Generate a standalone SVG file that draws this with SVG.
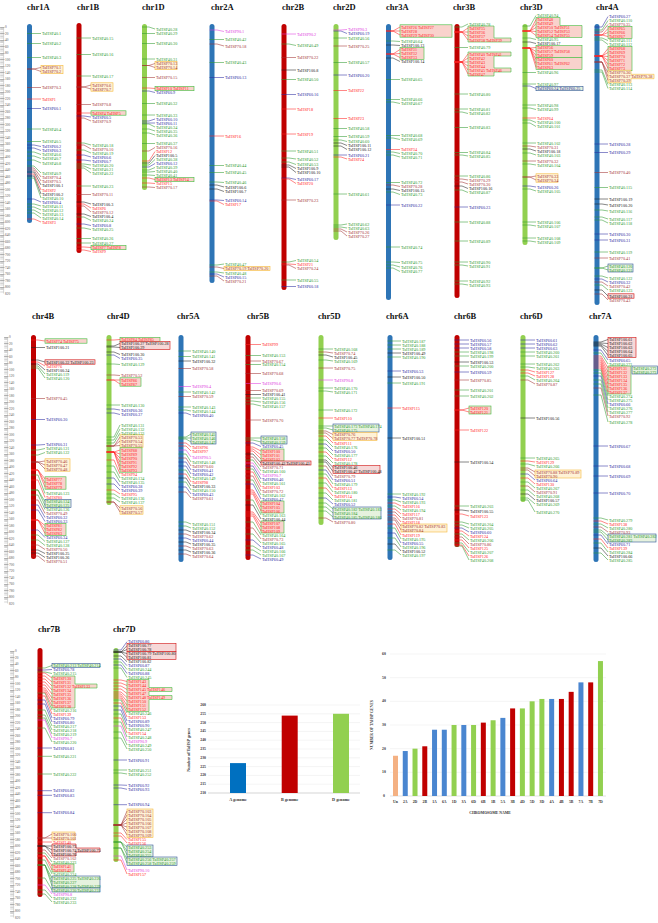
<svg xmlns="http://www.w3.org/2000/svg" width="658" height="923" viewBox="0 0 658 923">
<style>
text{font-family:"Liberation Serif","Times New Roman",serif}
.t text{font-size:4.2px;dominant-baseline:central}
.a{fill:#2f9a2f}.b{fill:#2a2aa0}.c{fill:#a23232}.d{fill:#ff2222}.e{fill:#222}.f{fill:#e03ce0}
.pa,.pb,.pc,.pd,.pe,.pf{fill:none;stroke-width:.55}
.pa{stroke:#2f9a2f}.pb{stroke:#2a2aa0}.pc{stroke:#a23232}.pd{stroke:#ff2222}.pe{stroke:#222}.pf{stroke:#e03ce0}
.A{fill:#2e75b6}.B{fill:#c00000}.D{fill:#92d050}
.yb{fill:#fff2d6;stroke:#f6b83c;stroke-width:.6}
.gb{fill:#f9d2cc;stroke:#3fbf3f;stroke-width:.6}
.bb{fill:#e6f2de;stroke:#2f5597;stroke-width:.6}
.rb{fill:#f6d8d8;stroke:#d01010;stroke-width:.6}
.ttl{font-size:8.5px;font-weight:bold;fill:#111}
.rl text{font-size:3.4px;fill:#555;dominant-baseline:central}
.ax{font-size:4.2px;font-weight:bold;fill:#333}
.grid{stroke:#e8e8e8;stroke-width:.5}
</style>
<defs>
<g id="ruler" class="rl">
<path d="M1.8 0V266.5" stroke="#aaa" stroke-width="3.2" stroke-dasharray=".35 .95"/>
<path d="M2.3 0V266.5" stroke="#777" stroke-width="4.4" stroke-dasharray=".5 6"/>
<path d="M3.6 0V266.5" stroke="#999" stroke-width=".4"/>
<g transform="translate(5,0)"><text y="0">0</text><text y="6.5">20</text><text y="13">40</text><text y="19.5">60</text><text y="26">80</text><text y="32.5">100</text><text y="39">120</text><text y="45.5">140</text><text y="52">160</text><text y="58.5">180</text><text y="65">200</text><text y="71.5">220</text><text y="78">240</text><text y="84.5">260</text><text y="91">280</text><text y="97.5">300</text><text y="104">320</text><text y="110.5">340</text><text y="117">360</text><text y="123.5">380</text><text y="130">400</text><text y="136.5">420</text><text y="143">440</text><text y="149.5">460</text><text y="156">480</text><text y="162.5">500</text><text y="169">520</text><text y="175.5">540</text><text y="182">560</text><text y="188.5">580</text><text y="195">600</text><text y="201.5">620</text><text y="208">640</text><text y="214.5">660</text><text y="221">680</text><text y="227.5">700</text><text y="234">720</text><text y="240.5">740</text><text y="247">760</text><text y="253.5">780</text><text y="260">800</text><text y="266.5">820</text></g>
</g>
</defs>
<rect width="658" height="923" fill="#fff"/>
<g id="rulers">
<use href="#ruler" transform="translate(0,27)"/>
<use href="#ruler" transform="translate(4,337)"/>
<use href="#ruler" transform="translate(10,651)"/>
</g>
<g id="titles" class="ttl">
<text x="27" y="10">chr1A</text><text x="77" y="10">chr1B</text><text x="142" y="10">chr1D</text><text x="211" y="10">chr2A</text><text x="282" y="10">chr2B</text><text x="333" y="10">chr2D</text><text x="386" y="10">chr3A</text><text x="453" y="10">chr3B</text><text x="520" y="10">chr3D</text><text x="596" y="10">chr4A</text>
<text x="32" y="319">chr4B</text><text x="107" y="319">chr4D</text><text x="177" y="319">chr5A</text><text x="247" y="319">chr5B</text><text x="318" y="319">chr5D</text><text x="386" y="319">chr6A</text><text x="454" y="319">chr6B</text><text x="520" y="319">chr6D</text><text x="589" y="319">chr7A</text>
<text x="38" y="632">chr7B</text><text x="113" y="632">chr7D</text>
</g>

<g id="chr1A" class="t">
<rect class="A" x="27" y="24" width="5" height="199" rx="2.5"/>
<rect class="yb" x="41" y="65.3" width="22" height="8.4"/>
<path class="pa" d="M27 33.5H34L41 33.5M27 43.5H34L41 43.5M27 57.5H34L41 57.5M27 129H34L41 129M27 141.5H34L41 141.5M27 152H34L41 154.5M27 156H34L41 158.5M27 160H34L41 163M27 166H34L41 173M27 178H34L41 198M27 204H34L41 206M27 207H34L41 210M27 210H34L41 214M27 213H34L41 218"/>
<path class="pb" d="M27 108.5H34L41 108.5M27 145H34L41 146.5M27 148H34L41 150.5M27 199H34L41 202"/>
<path class="pc" d="M27 69H34L41 67.5M27 69H34L41 71.5M27 87.5H34L41 87.5M27 168H34L41 177M27 170H34L41 181"/>
<path class="pd" d="M27 99H34L41 99M27 174H34L41 190M27 219H34L41 222"/>
<path class="pe" d="M27 172H34L41 185M27 176H34L41 194"/>
<g class="a"><text x="42" y="33.5">TaHSP40.1</text><text x="42" y="43.5">TaHSP40.2</text><text x="42" y="57.5">TaHSP40.3</text><text x="42" y="129">TaHSP40.4</text><text x="42" y="141.5">TaHSP40.5</text><text x="42" y="154.5">TaHSP40.6</text><text x="42" y="158.5">TaHSP40.7</text><text x="42" y="163">TaHSP40.8</text><text x="42" y="173">TaHSP40.9</text><text x="42" y="198">TaHSP40.10</text><text x="42" y="206">TaHSP40.11</text><text x="42" y="210">TaHSP40.12</text><text x="42" y="214">TaHSP40.13</text><text x="42" y="218">TaHSP40.14</text></g>
<g class="b"><text x="42" y="108.5">TaHSP60.1</text><text x="42" y="146.5">TaHSP60.2</text><text x="42" y="150.5">TaHSP60.3</text><text x="42" y="202">TaHSP60.4</text></g>
<g class="c"><text x="42" y="67.5">TaHSP70.1</text><text x="42" y="71.5">TaHSP70.2</text><text x="42" y="87.5">TaHSP70.3</text><text x="42" y="177">TaHSP70.4</text><text x="42" y="181">TaHSP70.5</text></g>
<g class="d"><text x="42" y="99">TaHSP1</text><text x="42" y="190">TaHSP2</text><text x="42" y="222">TaHSP3</text></g>
<g class="e"><text x="42" y="185">TaHSP100.1</text><text x="42" y="194">TaHSP100.2</text></g>
</g>

<g id="chr1B" class="t">
<rect class="B" x="76.5" y="23" width="5" height="230" rx="2.5"/>
<rect class="yb" x="91" y="82.8" width="22" height="8.4"/>
<rect class="gb" x="91" y="110.8" width="35" height="4.4"/>
<rect class="gb" x="91" y="245.3" width="35" height="4.4"/>
<path class="pa" d="M76.5 38H84L91 38M76.5 54.5H84L91 54.5M76.5 76H84L91 76M76.5 143H84L91 145M76.5 150H84L91 153M76.5 164H84L91 165M76.5 166H84L91 169M76.5 168H84L91 173M76.5 186H84L91 186M76.5 217H84L91 220.5M76.5 228H84L91 229.5M76.5 238.5H84L91 238.5M76.5 243H84L91 243"/>
<path class="pb" d="M76.5 116H84L91 117M76.5 155H84L91 157M76.5 160H84L91 161M76.5 224H84L91 225.5"/>
<path class="pc" d="M76.5 87H84L91 85M76.5 87H84L91 89M76.5 104.5H84L91 104.5M76.5 118H84L91 121M76.5 145H84L91 149M76.5 194.5H84L91 194.5M76.5 206H84L91 212"/>
<path class="pd" d="M76.5 113H84L91 113M76.5 204H84L91 208M76.5 247H84L91 247.5M76.5 250H84L91 251.5"/>
<path class="pe" d="M76.5 202H84L91 204M76.5 214H84L91 216.5"/>
<g class="a"><text x="92" y="38">TaHSP40.15</text><text x="92" y="54.5">TaHSP40.16</text><text x="92" y="76">TaHSP40.17</text><text x="92" y="145">TaHSP40.18</text><text x="92" y="153">TaHSP40.19</text><text x="92" y="165">TaHSP40.20</text><text x="92" y="169">TaHSP40.21</text><text x="92" y="173">TaHSP40.22</text><text x="92" y="186">TaHSP40.23</text><text x="92" y="220.5">TaHSP40.24</text><text x="92" y="229.5">TaHSP40.25</text><text x="92" y="238.5">TaHSP40.26</text><text x="92" y="243">TaHSP40.27</text></g>
<g class="b"><text x="92" y="117">TaHSP60.5</text><text x="92" y="157">TaHSP60.6</text><text x="92" y="161">TaHSP60.7</text><text x="92" y="225.5">TaHSP60.8</text></g>
<g class="c"><text x="92" y="85">TaHSP70.6</text><text x="92" y="89">TaHSP70.7</text><text x="92" y="104.5">TaHSP70.8</text><text x="92" y="121">TaHSP70.9</text><text x="92" y="149">TaHSP70.10</text><text x="92" y="194.5">TaHSP70.11</text><text x="92" y="212">TaHSP70.12</text></g>
<g class="d"><text x="92" y="113">TaHSP4 TaHSP5</text><text x="92" y="208">TaHSP6</text><text x="92" y="247.5">TaHSP7 TaHSP8</text><text x="92" y="251.5">TaHSP9</text></g>
<g class="e"><text x="92" y="204">TaHSP100.3</text><text x="92" y="216.5">TaHSP100.4</text></g>
</g>

<g id="chr1D" class="t">
<rect class="D" x="142" y="24" width="5" height="166" rx="2.5"/>
<rect class="yb" x="155" y="61.3" width="22" height="8.4"/>
<rect class="gb" x="155" y="86.3" width="39" height="4.4"/>
<rect class="gb" x="155" y="177.3" width="39" height="4.4"/>
<path class="pa" d="M142 27H149L155 29M142 33.5H149L155 33.5M142 43.5H149L155 43.5M142 59H149L155 59M142 103.5H149L155 103.5M142 115H149L155 115M142 124H149L155 127M142 129H149L155 131M142 133H149L155 135M142 143.5H149L155 143.5M142 165H149L155 159.5M142 170H149L155 167.5M142 172H149L155 171.5M142 175H149L155 175.5"/>
<path class="pb" d="M142 91H149L155 92.5M142 121H149L155 119M142 123H149L155 123M142 167H149L155 163.5"/>
<path class="pc" d="M142 65.5H149L155 63.5M142 65.5H149L155 67.5M142 77.5H149L155 77.5M142 151H149L155 147.5M142 187H149L155 187.5"/>
<path class="pd" d="M142 88H149L155 88.5M142 161H149L155 151.5M142 178H149L155 179.5M142 183H149L155 183.5"/>
<path class="pe" d="M142 163H149L155 155.5"/>
<g class="a"><text x="156" y="29">TaHSP40.28</text><text x="156" y="33.5">TaHSP40.29</text><text x="156" y="43.5">TaHSP40.30</text><text x="156" y="59">TaHSP40.31</text><text x="156" y="103.5">TaHSP40.32</text><text x="156" y="115">TaHSP40.33</text><text x="156" y="127">TaHSP40.34</text><text x="156" y="131">TaHSP40.35</text><text x="156" y="135">TaHSP40.36</text><text x="156" y="143.5">TaHSP40.37</text><text x="156" y="159.5">TaHSP40.38</text><text x="156" y="167.5">TaHSP40.39</text><text x="156" y="171.5">TaHSP40.40</text><text x="156" y="175.5">TaHSP40.41</text></g>
<g class="b"><text x="156" y="92.5">TaHSP60.9</text><text x="156" y="119">TaHSP60.10</text><text x="156" y="123">TaHSP60.11</text><text x="156" y="163.5">TaHSP60.12</text></g>
<g class="c"><text x="156" y="63.5">TaHSP70.13</text><text x="156" y="67.5">TaHSP70.14</text><text x="156" y="77.5">TaHSP70.15</text><text x="156" y="147.5">TaHSP70.16</text><text x="156" y="187.5">TaHSP70.17</text></g>
<g class="d"><text x="156" y="88.5">TaHSP10 TaHSP11</text><text x="156" y="151.5">TaHSP12</text><text x="156" y="179.5">TaHSP13 TaHSP14</text><text x="156" y="183.5">TaHSP15</text></g>
<g class="e"><text x="156" y="155.5">TaHSP100.5</text></g>
</g>

<g id="chr2A" class="t">
<rect class="A" x="209.5" y="24" width="5" height="259" rx="2.5"/>
<rect class="yb" x="224" y="266.3" width="46" height="4.4"/>
<path class="pa" d="M209.5 39.5H217L224 39.5M209.5 62.5H217L224 62.5M209.5 165.5H217L224 165.5M209.5 172.5H217L224 172.5M209.5 182H217L224 182.5M209.5 265H217L224 264M209.5 272H217L224 273"/>
<path class="pb" d="M209.5 77.5H217L224 77.5M209.5 200H217L224 200.5M209.5 274H217L224 277"/>
<path class="pc" d="M209.5 44H217L224 46M209.5 267H217L224 268.5M209.5 276H217L224 281"/>
<path class="pd" d="M209.5 136H217L224 136M209.5 201H217L224 204.5"/>
<path class="pe" d="M209.5 185H217L224 187M209.5 189H217L224 191.5"/>
<path class="pf" d="M209.5 30H217L224 31.5"/>
<g class="a"><text x="225" y="39.5">TaHSP40.42</text><text x="225" y="62.5">TaHSP40.43</text><text x="225" y="165.5">TaHSP40.44</text><text x="225" y="172.5">TaHSP40.45</text><text x="225" y="182.5">TaHSP40.46</text><text x="225" y="264">TaHSP40.47</text><text x="225" y="273">TaHSP40.48</text></g>
<g class="b"><text x="225" y="77.5">TaHSP60.13</text><text x="225" y="200.5">TaHSP60.14</text><text x="225" y="277">TaHSP60.15</text></g>
<g class="c"><text x="225" y="46">TaHSP70.18</text><text x="225" y="268.5">TaHSP70.19 TaHSP70.20</text><text x="225" y="281">TaHSP70.21</text></g>
<g class="d"><text x="225" y="136">TaHSP16</text><text x="225" y="204.5">TaHSP17</text></g>
<g class="e"><text x="225" y="187">TaHSP100.6</text><text x="225" y="191.5">TaHSP100.7</text></g>
<g class="f"><text x="225" y="31.5">TaHSP90.1</text></g>
</g>

<g id="chr2B" class="t">
<rect class="B" x="281.5" y="24" width="5" height="266" rx="2.5"/>
<path class="pa" d="M281.5 44H289L296 45.5M281.5 79.5H289L296 79.5M281.5 151H289L296 151M281.5 158H289L296 159M281.5 162H289L296 164.5M281.5 262H289L296 260.5M281.5 280H289L296 280"/>
<path class="pb" d="M281.5 94.5H289L296 94.5M281.5 178H289L296 179.5M281.5 286.5H289L296 286.5"/>
<path class="pc" d="M281.5 57.5H289L296 57.5M281.5 200H289L296 200M281.5 265H289L296 268.5"/>
<path class="pd" d="M281.5 109H289L296 109M281.5 134H289L296 134M281.5 179H289L296 183.5M281.5 264H289L296 264.5"/>
<path class="pe" d="M281.5 70H289L296 70M281.5 165H289L296 168.5M281.5 167H289L296 172.5"/>
<path class="pf" d="M281.5 34H289L296 34"/>
<g class="a"><text x="297" y="45.5">TaHSP40.49</text><text x="297" y="79.5">TaHSP40.50</text><text x="297" y="151">TaHSP40.51</text><text x="297" y="159">TaHSP40.52</text><text x="297" y="164.5">TaHSP40.53</text><text x="297" y="260.5">TaHSP40.54</text><text x="297" y="280">TaHSP40.55</text></g>
<g class="b"><text x="297" y="94.5">TaHSP60.16</text><text x="297" y="179.5">TaHSP60.17</text><text x="297" y="286.5">TaHSP60.18</text></g>
<g class="c"><text x="297" y="57.5">TaHSP70.22</text><text x="297" y="200">TaHSP70.23</text><text x="297" y="268.5">TaHSP70.24</text></g>
<g class="d"><text x="297" y="109">TaHSP18</text><text x="297" y="134">TaHSP19</text><text x="297" y="183.5">TaHSP20</text><text x="297" y="264.5">TaHSP21</text></g>
<g class="e"><text x="297" y="70">TaHSP100.8</text><text x="297" y="168.5">TaHSP100.9</text><text x="297" y="172.5">TaHSP100.10</text></g>
<g class="f"><text x="297" y="34">TaHSP90.2</text></g>
</g>

<g id="chr2D" class="t">
<rect class="D" x="333.5" y="24" width="5" height="216" rx="2.5"/>
<path class="pa" d="M333.5 38H341L347 38M333.5 62.5H341L347 62.5M333.5 128.5H341L347 128.5M333.5 136.5H341L347 136.5M333.5 140H341L347 141.5M333.5 194H341L347 194M333.5 225H341L347 224M333.5 227H341L347 228"/>
<path class="pb" d="M333.5 31H341L347 33.5M333.5 75H341L347 75M333.5 155H341L347 155"/>
<path class="pc" d="M333.5 46H341L347 46M333.5 229H341L347 232M333.5 231H341L347 236"/>
<path class="pd" d="M333.5 90.5H341L347 90.5M333.5 118.5H341L347 118.5M333.5 157H341L347 159"/>
<path class="pe" d="M333.5 143H341L347 145.5M333.5 146H341L347 149.5"/>
<path class="pf" d="M333.5 30H341L347 29.5"/>
<g class="a"><text x="348" y="38">TaHSP40.56</text><text x="348" y="62.5">TaHSP40.57</text><text x="348" y="128.5">TaHSP40.58</text><text x="348" y="136.5">TaHSP40.59</text><text x="348" y="141.5">TaHSP40.60</text><text x="348" y="194">TaHSP40.61</text><text x="348" y="224">TaHSP40.62</text><text x="348" y="228">TaHSP40.63</text></g>
<g class="b"><text x="348" y="33.5">TaHSP60.19</text><text x="348" y="75">TaHSP60.20</text><text x="348" y="155">TaHSP60.21</text></g>
<g class="c"><text x="348" y="46">TaHSP70.25</text><text x="348" y="232">TaHSP70.26</text><text x="348" y="236">TaHSP70.27</text></g>
<g class="d"><text x="348" y="90.5">TaHSP22</text><text x="348" y="118.5">TaHSP23</text><text x="348" y="159">TaHSP24</text></g>
<g class="e"><text x="348" y="145.5">TaHSP100.11</text><text x="348" y="149.5">TaHSP100.12</text></g>
<g class="f"><text x="348" y="29.5">TaHSP90.3</text></g>
</g>

<g id="chr3A" class="t">
<rect class="A" x="386" y="24" width="5" height="276" rx="2.5"/>
<rect class="gb" x="400" y="24.8" width="52" height="12.4"/>
<rect class="gb" x="400" y="47.5" width="24" height="12"/>
<path class="pa" d="M386 41H393L400 41.5M386 79.5H393L400 79.5M386 99.5H393L400 99.5M386 102H393L400 103.5M386 135.5H393L400 135.5M386 138H393L400 139.5M386 152H393L400 153.5M386 155H393L400 157M386 182.5H393L400 182.5M386 192H393L400 194.5M386 247H393L400 247M386 262H393L400 262.5M386 265H393L400 267M386 268H393L400 271.5"/>
<path class="pb" d="M386 205H393L400 205"/>
<path class="pc" d="M386 185H393L400 186.5"/>
<path class="pd" d="M386 31H393L400 27M386 31H393L400 31M386 31H393L400 35M386 54H393L400 49.5M386 54H393L400 53.5M386 54H393L400 57.5M386 149.5H393L400 149.5"/>
<path class="pe" d="M386 45H393L400 45.5M386 58H393L400 61.5M386 189H393L400 190.5"/>
<g class="a"><text x="401" y="41.5">TaHSP40.64</text><text x="401" y="79.5">TaHSP40.65</text><text x="401" y="99.5">TaHSP40.66</text><text x="401" y="103.5">TaHSP40.67</text><text x="401" y="135.5">TaHSP40.68</text><text x="401" y="139.5">TaHSP40.69</text><text x="401" y="153.5">TaHSP40.70</text><text x="401" y="157">TaHSP40.71</text><text x="401" y="182.5">TaHSP40.72</text><text x="401" y="194.5">TaHSP40.73</text><text x="401" y="247">TaHSP40.74</text><text x="401" y="262.5">TaHSP40.75</text><text x="401" y="267">TaHSP40.76</text><text x="401" y="271.5">TaHSP40.77</text></g>
<g class="b"><text x="401" y="205">TaHSP60.22</text></g>
<g class="c"><text x="401" y="186.5">TaHSP70.28</text></g>
<g class="d"><text x="401" y="27">TaHSP26 TaHSP27</text><text x="401" y="31">TaHSP28</text><text x="401" y="35">TaHSP29 TaHSP30</text><text x="401" y="49.5">TaHSP31</text><text x="401" y="53.5">TaHSP32</text><text x="401" y="57.5">TaHSP33</text><text x="401" y="149.5">TaHSP34</text></g>
<g class="e"><text x="401" y="45.5">TaHSP100.13</text><text x="401" y="61.5">TaHSP100.14</text><text x="401" y="190.5">TaHSP100.15</text></g>
</g>

<g id="chr3B" class="t">
<rect class="B" x="454.5" y="24" width="5" height="274" rx="2.5"/>
<path class="gb" d="M468 26H494V38H511V42H468Z"/>
<path class="gb" d="M468 52H511V56H494V68H511V72H494V76H468Z"/>
<path class="pa" d="M454.5 27H462L468 24M454.5 47.5H462L468 47.5M454.5 94H462L468 94M454.5 109H462L468 109M454.5 112H462L468 113.5M454.5 127.5H462L468 127.5M454.5 152.5H462L468 152.5M454.5 155H462L468 156M454.5 176H462L468 176M454.5 190H462L468 192.5M454.5 222H462L468 222M454.5 241H462L468 241M454.5 262H462L468 262M454.5 265H462L468 266M454.5 281H462L468 281M454.5 284H462L468 285"/>
<path class="pb" d="M454.5 207H462L468 207"/>
<path class="pc" d="M454.5 179H462L468 180M454.5 182H462L468 184"/>
<path class="pd" d="M454.5 32H462L468 28M454.5 32H462L468 32M454.5 32H462L468 36M454.5 32H462L468 40M454.5 62H462L468 54M454.5 62H462L468 58M454.5 62H462L468 62M454.5 62H462L468 66M454.5 62H462L468 70M454.5 62H462L468 74"/>
<path class="pe" d="M454.5 186H462L468 188.5"/>
<g class="a"><text x="469" y="24">TaHSP40.78</text><text x="469" y="47.5">TaHSP40.79</text><text x="469" y="94">TaHSP40.80</text><text x="469" y="109">TaHSP40.81</text><text x="469" y="113.5">TaHSP40.82</text><text x="469" y="127.5">TaHSP40.83</text><text x="469" y="152.5">TaHSP40.84</text><text x="469" y="156">TaHSP40.85</text><text x="469" y="176">TaHSP40.86</text><text x="469" y="192.5">TaHSP40.87</text><text x="469" y="222">TaHSP40.88</text><text x="469" y="241">TaHSP40.89</text><text x="469" y="262">TaHSP40.90</text><text x="469" y="266">TaHSP40.91</text><text x="469" y="281">TaHSP40.92</text><text x="469" y="285">TaHSP40.93</text></g>
<g class="b"><text x="469" y="207">TaHSP60.23</text></g>
<g class="c"><text x="469" y="180">TaHSP70.29</text><text x="469" y="184">TaHSP70.30</text></g>
<g class="d"><text x="469" y="28">TaHSP35</text><text x="469" y="32">TaHSP36</text><text x="469" y="36">TaHSP37</text><text x="469" y="40">TaHSP38 TaHSP39</text><text x="469" y="54">TaHSP40 TaHSP41</text><text x="469" y="58">TaHSP42</text><text x="469" y="62">TaHSP43</text><text x="469" y="66">TaHSP44</text><text x="469" y="70">TaHSP45 TaHSP46</text><text x="469" y="74">TaHSP47</text></g>
<g class="e"><text x="469" y="188.5">TaHSP100.16</text></g>
</g>

<g id="chr3D" class="t">
<rect class="D" x="522.5" y="24" width="5" height="221" rx="2.5"/>
<path class="gb" d="M536 17.5H560V25.5H582V37.5H536Z"/>
<rect class="gb" x="536" y="45.5" width="46" height="12"/>
<rect class="gb" x="536" y="57.5" width="46" height="12"/>
<rect class="bb" x="536" y="86.3" width="47" height="4.4"/>
<rect class="yb" x="536" y="173.8" width="22" height="8.4"/>
<path class="pa" d="M522.5 26H530L536 15.5M522.5 38H530L536 39.5M522.5 72.5H530L536 72.5M522.5 84H530L536 84M522.5 105H530L536 105M522.5 108H530L536 109.5M522.5 120H530L536 122.5M522.5 123H530L536 126.5M522.5 143H530L536 143M522.5 153H530L536 155M522.5 164H530L536 165M522.5 189H530L536 191M522.5 222H530L536 222M522.5 225H530L536 226M522.5 238H530L536 238M522.5 241H530L536 242"/>
<path class="pb" d="M522.5 86H530L536 88.5M522.5 186H530L536 187"/>
<path class="pc" d="M522.5 146H530L536 147M522.5 161H530L536 161M522.5 177H530L536 176M522.5 177H530L536 180"/>
<path class="pd" d="M522.5 31H530L536 19.5M522.5 31H530L536 23.5M522.5 31H530L536 27.5M522.5 31H530L536 31.5M522.5 31H530L536 35.5M522.5 48H530L536 47.5M522.5 48H530L536 51.5M522.5 48H530L536 55.5M522.5 48H530L536 59.5M522.5 48H530L536 63.5M522.5 48H530L536 67.5M522.5 118H530L536 118"/>
<path class="pe" d="M522.5 42H530L536 43.5M522.5 149H530L536 151"/>
<g class="a"><text x="537" y="15.5">TaHSP40.94</text><text x="537" y="39.5">TaHSP40.95</text><text x="537" y="72.5">TaHSP40.96</text><text x="537" y="84">TaHSP40.97</text><text x="537" y="105">TaHSP40.98</text><text x="537" y="109.5">TaHSP40.99</text><text x="537" y="122.5">TaHSP40.100</text><text x="537" y="126.5">TaHSP40.101</text><text x="537" y="143">TaHSP40.102</text><text x="537" y="155">TaHSP40.103</text><text x="537" y="165">TaHSP40.104</text><text x="537" y="191">TaHSP40.105</text><text x="537" y="222">TaHSP40.106</text><text x="537" y="226">TaHSP40.107</text><text x="537" y="238">TaHSP40.108</text><text x="537" y="242">TaHSP40.109</text></g>
<g class="b"><text x="537" y="88.5">TaHSP60.24 TaHSP60.25</text><text x="537" y="187">TaHSP60.26</text></g>
<g class="c"><text x="537" y="147">TaHSP70.31</text><text x="537" y="161">TaHSP70.32</text><text x="537" y="176">TaHSP70.33</text><text x="537" y="180">TaHSP70.34</text></g>
<g class="d"><text x="537" y="19.5">TaHSP48</text><text x="537" y="23.5">TaHSP49</text><text x="537" y="27.5">TaHSP50 TaHSP51</text><text x="537" y="31.5">TaHSP52 TaHSP53</text><text x="537" y="35.5">TaHSP54 TaHSP55</text><text x="537" y="47.5">TaHSP56</text><text x="537" y="51.5">TaHSP57 TaHSP58</text><text x="537" y="55.5">TaHSP59</text><text x="537" y="59.5">TaHSP60</text><text x="537" y="63.5">TaHSP61 TaHSP62</text><text x="537" y="67.5">TaHSP63</text><text x="537" y="118">TaHSP64</text></g>
<g class="e"><text x="537" y="43.5">TaHSP100.17</text><text x="537" y="151">TaHSP100.18</text></g>
</g>

<g id="chr4A" class="t">
<rect class="A" x="594.5" y="24" width="5" height="281" rx="2.5"/>
<rect class="gb" x="608" y="26.3" width="24" height="12.4"/>
<rect class="gb" x="608" y="46.3" width="24" height="24.4"/>
<path class="yb" d="M608 70.3H631V74.3H654V78.7H631V82.7H608Z"/>
<rect class="bb" x="608" y="264" width="25" height="8"/>
<rect class="rb" x="608" y="293.8" width="26" height="4.4"/>
<path class="pa" d="M594.5 30H602L608 20.5M594.5 38H602L608 40.5M594.5 40H602L608 44.5M594.5 70H602L608 84.5M594.5 72H602L608 88.5M594.5 187.5H602L608 187.5M594.5 210H602L608 211M594.5 217H602L608 219M594.5 220H602L608 223M594.5 252H602L608 252M594.5 268H602L608 266M594.5 268H602L608 270M594.5 276H602L608 278M594.5 285H602L608 290"/>
<path class="pb" d="M594.5 27H602L608 16.5M594.5 144H602L608 144M594.5 152.5H602L608 152.5M594.5 234H602L608 234M594.5 240H602L608 240M594.5 279H602L608 282"/>
<path class="pc" d="M594.5 32H602L608 24.5M594.5 62H602L608 72.5M594.5 62H602L608 76.5M594.5 62H602L608 80.5M594.5 172.5H602L608 172.5M594.5 258H602L608 258M594.5 282H602L608 286M594.5 294H602L608 300"/>
<path class="pd" d="M594.5 35H602L608 28.5M594.5 35H602L608 32.5M594.5 35H602L608 36.5M594.5 56H602L608 48.5M594.5 56H602L608 52.5M594.5 56H602L608 56.5M594.5 56H602L608 60.5M594.5 56H602L608 64.5M594.5 56H602L608 68.5"/>
<path class="pe" d="M594.5 199H602L608 199M594.5 204H602L608 205M594.5 290H602L608 296"/>
<g class="a"><text x="609" y="20.5">TaHSP40.110</text><text x="609" y="40.5">TaHSP40.111</text><text x="609" y="44.5">TaHSP40.112</text><text x="609" y="84.5">TaHSP40.113</text><text x="609" y="88.5">TaHSP40.114</text><text x="609" y="187.5">TaHSP40.115</text><text x="609" y="211">TaHSP40.116</text><text x="609" y="219">TaHSP40.117</text><text x="609" y="223">TaHSP40.118</text><text x="609" y="252">TaHSP40.119</text><text x="609" y="266">TaHSP40.120</text><text x="609" y="270">TaHSP40.121</text><text x="609" y="278">TaHSP40.122</text><text x="609" y="290">TaHSP40.123</text></g>
<g class="b"><text x="609" y="16.5">TaHSP60.27</text><text x="609" y="144">TaHSP60.28</text><text x="609" y="152.5">TaHSP60.29</text><text x="609" y="234">TaHSP60.30</text><text x="609" y="240">TaHSP60.31</text><text x="609" y="282">TaHSP60.32</text></g>
<g class="c"><text x="609" y="24.5">TaHSP70.35</text><text x="609" y="72.5">TaHSP70.36</text><text x="609" y="76.5">TaHSP70.37 TaHSP70.38</text><text x="609" y="80.5">TaHSP70.39</text><text x="609" y="172.5">TaHSP70.40</text><text x="609" y="258">TaHSP70.41</text><text x="609" y="286">TaHSP70.42</text><text x="609" y="300">TaHSP70.43</text></g>
<g class="d"><text x="609" y="28.5">TaHSP65</text><text x="609" y="32.5">TaHSP66</text><text x="609" y="36.5">TaHSP67</text><text x="609" y="48.5">TaHSP68</text><text x="609" y="52.5">TaHSP69</text><text x="609" y="56.5">TaHSP70</text><text x="609" y="60.5">TaHSP71</text><text x="609" y="64.5">TaHSP72</text><text x="609" y="68.5">TaHSP73</text></g>
<g class="e"><text x="609" y="199">TaHSP100.19</text><text x="609" y="205">TaHSP100.20</text><text x="609" y="296">TaHSP100.21</text></g>
</g>

<g id="chr4B" class="t">
<rect class="B" x="31" y="335" width="5" height="224" rx="2.5"/>
<rect class="gb" x="45" y="338.8" width="42" height="4.4"/>
<rect class="rb" x="45" y="359.8" width="50" height="4.4"/>
<rect class="yb" x="45" y="458.8" width="25" height="12.4"/>
<rect class="gb" x="45" y="476.8" width="21" height="12.4"/>
<rect class="bb" x="45" y="499.3" width="26" height="8.4"/>
<rect class="gb" x="45" y="523.3" width="21" height="12.4"/>
<path class="pa" d="M31 366H38L45 374M31 368H38L45 378M31 450H38L45 448.5M31 455H38L45 452.5M31 475H38L45 493.5M31 490H38L45 501.5M31 490H38L45 505.5M31 495H38L45 509.5M31 535H38L45 541.5M31 540H38L45 545.5"/>
<path class="pb" d="M31 419.5H38L45 419.5M31 445H38L45 444.5M31 505H38L45 517.5M31 510H38L45 521.5M31 530H38L45 537.5"/>
<path class="pc" d="M31 398.5H38L45 398.5M31 462H38L45 461M31 462H38L45 465M31 462H38L45 469M31 500H38L45 513.5M31 545H38L45 549.5M31 556H38L45 561.5"/>
<path class="pd" d="M31 340H38L45 341M31 362H38L45 366M31 470H38L45 479M31 470H38L45 483M31 470H38L45 487M31 480H38L45 497.5M31 520H38L45 525.5M31 520H38L45 529.5M31 520H38L45 533.5"/>
<path class="pe" d="M31 347.5H38L45 347.5M31 360H38L45 362M31 364H38L45 370M31 550H38L45 553.5M31 553H38L45 557.5"/>
<g class="a"><text x="46" y="374">TaHSP40.119</text><text x="46" y="378">TaHSP40.120</text><text x="46" y="448.5">TaHSP40.121</text><text x="46" y="452.5">TaHSP40.122</text><text x="46" y="493.5">TaHSP40.123</text><text x="46" y="501.5">TaHSP40.124</text><text x="46" y="505.5">TaHSP40.125</text><text x="46" y="509.5">TaHSP40.126</text><text x="46" y="541.5">TaHSP40.127</text><text x="46" y="545.5">TaHSP40.128</text></g>
<g class="b"><text x="46" y="419.5">TaHSP60.30</text><text x="46" y="444.5">TaHSP60.31</text><text x="46" y="517.5">TaHSP60.32</text><text x="46" y="521.5">TaHSP60.33</text><text x="46" y="537.5">TaHSP60.34</text></g>
<g class="c"><text x="46" y="398.5">TaHSP70.45</text><text x="46" y="461">TaHSP70.46</text><text x="46" y="465">TaHSP70.47</text><text x="46" y="469">TaHSP70.48</text><text x="46" y="513.5">TaHSP70.49</text><text x="46" y="549.5">TaHSP70.50</text><text x="46" y="561.5">TaHSP70.51</text></g>
<g class="d"><text x="46" y="341">TaHSP74 TaHSP75</text><text x="46" y="366">TaHSP76</text><text x="46" y="479">TaHSP77</text><text x="46" y="483">TaHSP78</text><text x="46" y="487">TaHSP79</text><text x="46" y="497.5">TaHSP80</text><text x="46" y="525.5">TaHSP81</text><text x="46" y="529.5">TaHSP82</text><text x="46" y="533.5">TaHSP83</text></g>
<g class="e"><text x="46" y="347.5">TaHSP100.21</text><text x="46" y="362">TaHSP100.22 TaHSP100.23</text><text x="46" y="370">TaHSP100.24</text><text x="46" y="553.5">TaHSP100.25</text><text x="46" y="557.5">TaHSP100.26</text></g>
</g>

<g id="chr4D" class="t">
<rect class="D" x="106.5" y="335" width="5" height="170" rx="2.5"/>
<rect class="gb" x="120" y="337.3" width="40" height="4.4"/>
<rect class="rb" x="120" y="341.3" width="50" height="8.4"/>
<rect class="gb" x="120" y="377.8" width="21" height="8.4"/>
<rect class="yb" x="120" y="434.8" width="23" height="12.9"/>
<rect class="gb" x="120" y="447.8" width="22" height="24.4"/>
<rect class="yb" x="120" y="505.8" width="23" height="8.4"/>
<path class="pa" d="M106.5 364H114L120 364.5M106.5 405H114L120 405M106.5 437H114L120 425M106.5 440H114L120 429M106.5 443H114L120 433M106.5 466H114L120 478M106.5 472H114L120 482M106.5 494H114L120 498M106.5 498H114L120 502"/>
<path class="pb" d="M106.5 355H114L120 358.5M106.5 409H114L120 410M106.5 413H114L120 414.5M106.5 478H114L120 486M106.5 484H114L120 490"/>
<path class="pc" d="M106.5 375H114L120 375.5M106.5 446H114L120 437M106.5 446H114L120 441M106.5 446H114L120 445.5M106.5 502H114L120 508M106.5 502H114L120 512"/>
<path class="pd" d="M106.5 340H114L120 339.5M106.5 380H114L120 380M106.5 380H114L120 384M106.5 452H114L120 450M106.5 452H114L120 454M106.5 452H114L120 458M106.5 452H114L120 462M106.5 452H114L120 466M106.5 452H114L120 470M106.5 460H114L120 474M106.5 490H114L120 494"/>
<path class="pe" d="M106.5 346H114L120 343.5M106.5 347H114L120 347.5M106.5 352H114L120 354.5"/>
<g class="a"><text x="121" y="364.5">TaHSP40.129</text><text x="121" y="405">TaHSP40.130</text><text x="121" y="425">TaHSP40.131</text><text x="121" y="429">TaHSP40.132</text><text x="121" y="433">TaHSP40.133</text><text x="121" y="478">TaHSP40.134</text><text x="121" y="482">TaHSP40.135</text><text x="121" y="498">TaHSP40.136</text><text x="121" y="502">TaHSP40.137</text></g>
<g class="b"><text x="121" y="358.5">TaHSP60.35</text><text x="121" y="410">TaHSP60.36</text><text x="121" y="414.5">TaHSP60.37</text><text x="121" y="486">TaHSP60.38</text><text x="121" y="490">TaHSP60.39</text></g>
<g class="c"><text x="121" y="375.5">TaHSP70.52</text><text x="121" y="437">TaHSP70.53</text><text x="121" y="441">TaHSP70.54</text><text x="121" y="445.5">TaHSP70.55</text><text x="121" y="508">TaHSP70.56</text><text x="121" y="512">TaHSP70.57</text></g>
<g class="d"><text x="121" y="339.5">TaHSP84 TaHSP85</text><text x="121" y="380">TaHSP86</text><text x="121" y="384">TaHSP87</text><text x="121" y="450">TaHSP88</text><text x="121" y="454">TaHSP89</text><text x="121" y="458">TaHSP90</text><text x="121" y="462">TaHSP91</text><text x="121" y="466">TaHSP92</text><text x="121" y="470">TaHSP93</text><text x="121" y="474">TaHSP94</text><text x="121" y="494">TaHSP95</text></g>
<g class="e"><text x="121" y="343.5">TaHSP100.27 TaHSP100.28</text><text x="121" y="347.5">TaHSP100.29</text><text x="121" y="354.5">TaHSP100.30</text></g>
</g>

<g id="chr5A" class="t">
<rect class="A" x="178.5" y="335" width="5" height="227" rx="2.5"/>
<rect class="bb" x="191" y="432" width="25" height="12"/>
<path class="pa" d="M178.5 351H186L191 351M178.5 356.5H186L191 356.5M178.5 392H186L191 392M178.5 407H186L191 407M178.5 410H186L191 411M178.5 437H186L191 434M178.5 438H186L191 438M178.5 439H186L191 442M178.5 454H186L191 462M178.5 470H186L191 478M178.5 482H186L191 490M178.5 522H186L191 524M178.5 526H186L191 528"/>
<path class="pb" d="M178.5 413H186L191 415M178.5 462H186L191 470M178.5 466H186L191 474M178.5 487H186L191 494M178.5 538H186L191 540"/>
<path class="pc" d="M178.5 368.5H186L191 368.5M178.5 396.5H186L191 396.5M178.5 458H186L191 466M178.5 492H186L191 498M178.5 534H186L191 536M178.5 546H186L191 548M178.5 554H186L191 556"/>
<path class="pd" d="M178.5 443H186L191 447M178.5 446H186L191 451M178.5 474H186L191 482"/>
<path class="pe" d="M178.5 361H186L191 361M178.5 478H186L191 486M178.5 530H186L191 532M178.5 542H186L191 544M178.5 550H186L191 552"/>
<path class="pf" d="M178.5 386.5H186L191 386.5M178.5 450H186L191 457"/>
<g class="a"><text x="192" y="351">TaHSP40.140</text><text x="192" y="356.5">TaHSP40.141</text><text x="192" y="392">TaHSP40.142</text><text x="192" y="407">TaHSP40.143</text><text x="192" y="411">TaHSP40.144</text><text x="192" y="434">TaHSP40.145</text><text x="192" y="438">TaHSP40.146</text><text x="192" y="442">TaHSP40.147</text><text x="192" y="462">TaHSP40.148</text><text x="192" y="478">TaHSP40.149</text><text x="192" y="490">TaHSP40.150</text><text x="192" y="524">TaHSP40.151</text><text x="192" y="528">TaHSP40.152</text></g>
<g class="b"><text x="192" y="415">TaHSP60.40</text><text x="192" y="470">TaHSP60.41</text><text x="192" y="474">TaHSP60.42</text><text x="192" y="494">TaHSP60.43</text><text x="192" y="540">TaHSP60.44</text></g>
<g class="c"><text x="192" y="368.5">TaHSP70.58</text><text x="192" y="396.5">TaHSP70.59</text><text x="192" y="466">TaHSP70.60</text><text x="192" y="498">TaHSP70.61</text><text x="192" y="536">TaHSP70.62</text><text x="192" y="548">TaHSP70.63</text><text x="192" y="556">TaHSP70.64</text></g>
<g class="d"><text x="192" y="447">TaHSP96</text><text x="192" y="451">TaHSP97</text><text x="192" y="482">TaHSP98</text></g>
<g class="e"><text x="192" y="361">TaHSP100.32</text><text x="192" y="486">TaHSP100.33</text><text x="192" y="532">TaHSP100.34</text><text x="192" y="544">TaHSP100.35</text><text x="192" y="552">TaHSP100.36</text></g>
<g class="f"><text x="192" y="386.5">TaHSP90.4</text><text x="192" y="457">TaHSP90.5</text></g>
</g>

<g id="chr5B" class="t">
<rect class="B" x="245.5" y="335" width="5" height="225" rx="2.5"/>
<rect class="bb" x="261" y="436" width="26" height="8"/>
<rect class="gb" x="261" y="449" width="23" height="12"/>
<rect class="rb" x="261" y="461" width="50" height="4"/>
<rect class="gb" x="261" y="501" width="23" height="12"/>
<rect class="gb" x="261" y="521" width="23" height="12"/>
<path class="pa" d="M245.5 355.5H253L261 355.5M245.5 364.5H253L261 364.5M245.5 398H253L261 398M245.5 401H253L261 402M245.5 404H253L261 406M245.5 438H253L261 438M245.5 440H253L261 442M245.5 460H253L261 471M245.5 469H253L261 483M245.5 480H253L261 495M245.5 500H253L261 515M245.5 522H253L261 535M245.5 534H253L261 543M245.5 546H253L261 551M245.5 550H253L261 555"/>
<path class="pb" d="M245.5 443H253L261 446.5M245.5 466H253L261 479M245.5 484H253L261 499M245.5 540H253L261 547M245.5 555H253L261 559"/>
<path class="pc" d="M245.5 361H253L261 361M245.5 373.5H253L261 373.5M245.5 390.5H253L261 390.5M245.5 420H253L261 420M245.5 457H253L261 467M245.5 476H253L261 491M245.5 528H253L261 539"/>
<path class="pd" d="M245.5 344.5H253L261 344.5M245.5 447H253L261 451M245.5 449H253L261 455M245.5 451H253L261 459M245.5 472H253L261 487M245.5 490H253L261 503M245.5 492H253L261 507M245.5 494H253L261 511M245.5 512H253L261 523M245.5 514H253L261 527M245.5 516H253L261 531"/>
<path class="pe" d="M245.5 394.5H253L261 394.5M245.5 454H253L261 463M245.5 505H253L261 519"/>
<path class="pf" d="M245.5 383.5H253L261 383.5M245.5 463H253L261 475"/>
<g class="a"><text x="262" y="355.5">TaHSP40.153</text><text x="262" y="364.5">TaHSP40.154</text><text x="262" y="398">TaHSP40.155</text><text x="262" y="402">TaHSP40.156</text><text x="262" y="406">TaHSP40.157</text><text x="262" y="438">TaHSP40.158</text><text x="262" y="442">TaHSP40.159</text><text x="262" y="471">TaHSP40.160</text><text x="262" y="483">TaHSP40.161</text><text x="262" y="495">TaHSP40.162</text><text x="262" y="515">TaHSP40.163</text><text x="262" y="535">TaHSP40.164</text><text x="262" y="543">TaHSP40.165</text><text x="262" y="551">TaHSP40.166</text><text x="262" y="555">TaHSP40.167</text></g>
<g class="b"><text x="262" y="446.5">TaHSP60.45</text><text x="262" y="479">TaHSP60.46</text><text x="262" y="499">TaHSP60.47</text><text x="262" y="547">TaHSP60.48</text><text x="262" y="559">TaHSP60.49</text></g>
<g class="c"><text x="262" y="361">TaHSP70.67</text><text x="262" y="373.5">TaHSP70.68</text><text x="262" y="390.5">TaHSP70.69</text><text x="262" y="420">TaHSP70.70</text><text x="262" y="467">TaHSP70.71</text><text x="262" y="491">TaHSP70.72</text><text x="262" y="539">TaHSP70.73</text></g>
<g class="d"><text x="262" y="344.5">TaHSP99</text><text x="262" y="451">TaHSP100</text><text x="262" y="455">TaHSP101</text><text x="262" y="459">TaHSP102</text><text x="262" y="487">TaHSP103</text><text x="262" y="503">TaHSP104</text><text x="262" y="507">TaHSP105</text><text x="262" y="511">TaHSP106</text><text x="262" y="523">TaHSP107</text><text x="262" y="527">TaHSP108</text><text x="262" y="531">TaHSP109</text></g>
<g class="e"><text x="262" y="394.5">TaHSP100.41</text><text x="262" y="463">TaHSP100.42 TaHSP100.43</text><text x="262" y="519">TaHSP100.44</text></g>
<g class="f"><text x="262" y="383.5">TaHSP90.6</text><text x="262" y="475">TaHSP90.7</text></g>
</g>

<g id="chr5D" class="t">
<rect class="D" x="318.5" y="335" width="5" height="190" rx="2.5"/>
<rect class="bb" x="333" y="424" width="46" height="8"/>
<rect class="yb" x="333" y="432.5" width="44" height="8"/>
<rect class="rb" x="333" y="465.5" width="47" height="8"/>
<rect class="bb" x="333" y="507" width="48" height="12"/>
<path class="pa" d="M318.5 349H326L333 349M318.5 360H326L333 361M318.5 388H326L333 388M318.5 391H326L333 392M318.5 410H326L333 410M318.5 426H326L333 426M318.5 428H326L333 430M318.5 440H326L333 447M318.5 448H326L333 455M318.5 456H326L333 463M318.5 474H326L333 484M318.5 483H326L333 492M318.5 493H326L333 500M318.5 503H326L333 509M318.5 507H326L333 513M318.5 511H326L333 517"/>
<path class="pb" d="M318.5 444H326L333 451M318.5 470H326L333 480M318.5 498H326L333 504"/>
<path class="pc" d="M318.5 352H326L333 353M318.5 368H326L333 368M318.5 431H326L333 434.5M318.5 433H326L333 438.5M318.5 466H326L333 476M318.5 518H326L333 522"/>
<path class="pd" d="M318.5 418H326L333 418M318.5 436H326L333 443M318.5 452H326L333 459M318.5 478H326L333 488M318.5 488H326L333 496"/>
<path class="pe" d="M318.5 355H326L333 357M318.5 460H326L333 467.5M318.5 462H326L333 471.5"/>
<path class="pf" d="M318.5 380H326L333 380"/>
<g class="a"><text x="334" y="349">TaHSP40.168</text><text x="334" y="361">TaHSP40.169</text><text x="334" y="388">TaHSP40.170</text><text x="334" y="392">TaHSP40.171</text><text x="334" y="410">TaHSP40.172</text><text x="334" y="426">TaHSP40.173 TaHSP40.174</text><text x="334" y="430">TaHSP40.175</text><text x="334" y="447">TaHSP40.176</text><text x="334" y="455">TaHSP40.177</text><text x="334" y="463">TaHSP40.178</text><text x="334" y="484">TaHSP40.179</text><text x="334" y="492">TaHSP40.180</text><text x="334" y="500">TaHSP40.181</text><text x="334" y="509">TaHSP40.182 TaHSP40.183</text><text x="334" y="513">TaHSP40.184</text><text x="334" y="517">TaHSP40.185 TaHSP40.186</text></g>
<g class="b"><text x="334" y="451">TaHSP60.50</text><text x="334" y="480">TaHSP60.51</text><text x="334" y="504">TaHSP60.52</text></g>
<g class="c"><text x="334" y="353">TaHSP70.74</text><text x="334" y="368">TaHSP70.75</text><text x="334" y="434.5">TaHSP70.76</text><text x="334" y="438.5">TaHSP70.77 TaHSP70.78</text><text x="334" y="476">TaHSP70.79</text><text x="334" y="522">TaHSP70.80</text></g>
<g class="d"><text x="334" y="418">TaHSP110</text><text x="334" y="443">TaHSP111</text><text x="334" y="459">TaHSP112</text><text x="334" y="488">TaHSP113</text><text x="334" y="496">TaHSP114</text></g>
<g class="e"><text x="334" y="357">TaHSP100.45</text><text x="334" y="467.5">TaHSP100.46</text><text x="334" y="471.5">TaHSP100.47 TaHSP100.48</text></g>
<g class="f"><text x="334" y="380">TaHSP90.8</text></g>
</g>

<g id="chr6A" class="t">
<rect class="A" x="387.5" y="335" width="5" height="225" rx="2.5"/>
<rect class="yb" x="401" y="524" width="46" height="8"/>
<path class="pa" d="M387.5 341H395L401 341M387.5 345H395L401 345M387.5 349H395L401 349M387.5 357H395L401 357M387.5 383H395L401 383M387.5 494H395L401 494M387.5 500H395L401 502M387.5 506H395L401 510M387.5 528H395L401 539M387.5 538H395L401 547M387.5 550H395L401 555"/>
<path class="pb" d="M387.5 371H395L401 371M387.5 497H395L401 498M387.5 533H395L401 543"/>
<path class="pc" d="M387.5 512H395L401 518M387.5 518H395L401 526M387.5 520H395L401 530"/>
<path class="pd" d="M387.5 408H395L401 408M387.5 503H395L401 506M387.5 509H395L401 514M387.5 515H395L401 522M387.5 524H395L401 535"/>
<path class="pe" d="M387.5 353H395L401 353M387.5 377H395L401 377M387.5 438H395L401 438M387.5 544H395L401 551"/>
<g class="a"><text x="402" y="341">TaHSP40.187</text><text x="402" y="345">TaHSP40.188</text><text x="402" y="349">TaHSP40.189</text><text x="402" y="357">TaHSP40.190</text><text x="402" y="383">TaHSP40.191</text><text x="402" y="494">TaHSP40.192</text><text x="402" y="502">TaHSP40.193</text><text x="402" y="510">TaHSP40.194</text><text x="402" y="539">TaHSP40.195</text><text x="402" y="547">TaHSP40.196</text><text x="402" y="555">TaHSP40.197</text></g>
<g class="b"><text x="402" y="371">TaHSP60.53</text><text x="402" y="498">TaHSP60.54</text><text x="402" y="543">TaHSP60.55</text></g>
<g class="c"><text x="402" y="518">TaHSP70.81</text><text x="402" y="526">TaHSP70.82 TaHSP70.83</text><text x="402" y="530">TaHSP70.84</text></g>
<g class="d"><text x="402" y="408">TaHSP115</text><text x="402" y="506">TaHSP116</text><text x="402" y="514">TaHSP117</text><text x="402" y="522">TaHSP118</text><text x="402" y="535">TaHSP119</text></g>
<g class="e"><text x="402" y="353">TaHSP100.49</text><text x="402" y="377">TaHSP100.50</text><text x="402" y="438">TaHSP100.51</text><text x="402" y="551">TaHSP100.52</text></g>
</g>

<g id="chr6B" class="t">
<rect class="B" x="454.5" y="335" width="5" height="212" rx="2.5"/>
<rect class="gb" x="469" y="406" width="22" height="8"/>
<path class="pa" d="M454.5 352H462L469 352M454.5 356H462L469 356M454.5 366H462L469 366M454.5 390H462L469 390M454.5 396H462L469 396M454.5 506H462L469 506M454.5 522H462L469 524M454.5 525H462L469 528M454.5 534H462L469 540M454.5 543H462L469 552M454.5 546H462L469 560"/>
<path class="pb" d="M454.5 340H462L469 340M454.5 344H462L469 344M454.5 348H462L469 348M454.5 372H462L469 372M454.5 528H462L469 532"/>
<path class="pc" d="M454.5 380H462L469 380M454.5 537H462L469 544"/>
<path class="pd" d="M454.5 410H462L469 408M454.5 410H462L469 412M454.5 430H462L469 430M454.5 514H462L469 516M454.5 531H462L469 536M454.5 540H462L469 548M454.5 545H462L469 556"/>
<path class="pe" d="M454.5 362H462L469 362M454.5 462H462L469 462M454.5 510H462L469 511"/>
<g class="a"><text x="470" y="352">TaHSP40.198</text><text x="470" y="356">TaHSP40.199</text><text x="470" y="366">TaHSP40.200</text><text x="470" y="390">TaHSP40.201</text><text x="470" y="396">TaHSP40.202</text><text x="470" y="506">TaHSP40.203</text><text x="470" y="524">TaHSP40.204</text><text x="470" y="528">TaHSP40.205</text><text x="470" y="540">TaHSP40.206</text><text x="470" y="552">TaHSP40.207</text><text x="470" y="560">TaHSP40.208</text></g>
<g class="b"><text x="470" y="340">TaHSP60.56</text><text x="470" y="344">TaHSP60.57</text><text x="470" y="348">TaHSP60.58</text><text x="470" y="372">TaHSP60.59</text><text x="470" y="532">TaHSP60.60</text></g>
<g class="c"><text x="470" y="380">TaHSP70.85</text><text x="470" y="544">TaHSP70.86</text></g>
<g class="d"><text x="470" y="408">TaHSP120</text><text x="470" y="412">TaHSP121</text><text x="470" y="430">TaHSP122</text><text x="470" y="516">TaHSP123</text><text x="470" y="536">TaHSP124</text><text x="470" y="548">TaHSP125</text><text x="470" y="556">TaHSP126</text></g>
<g class="e"><text x="470" y="362">TaHSP100.53</text><text x="470" y="462">TaHSP100.54</text><text x="470" y="511">TaHSP100.55</text></g>
</g>

<g id="chr6D" class="t">
<rect class="D" x="520.5" y="335" width="5" height="167" rx="2.5"/>
<rect class="yb" x="535" y="470" width="46" height="8"/>
<path class="pa" d="M520.5 352H528L535 352M520.5 356H528L535 356M520.5 364H528L535 364M520.5 367H528L535 368M520.5 376H528L535 380M520.5 458H528L535 458M520.5 464H528L535 466M520.5 482H528L535 488M520.5 490H528L535 496M520.5 498H528L535 504M520.5 500H528L535 512"/>
<path class="pb" d="M520.5 340H528L535 340M520.5 344H528L535 344M520.5 348H528L535 348M520.5 474H528L535 480"/>
<path class="pc" d="M520.5 380H528L535 384M520.5 468H528L535 472M520.5 470H528L535 476M520.5 486H528L535 492"/>
<path class="pd" d="M520.5 370H528L535 372M520.5 373H528L535 376M520.5 461H528L535 462M520.5 478H528L535 484"/>
<path class="pe" d="M520.5 418H528L535 418M520.5 494H528L535 500"/>
<g class="a"><text x="536" y="352">TaHSP40.260</text><text x="536" y="356">TaHSP40.261</text><text x="536" y="364">TaHSP40.262</text><text x="536" y="368">TaHSP40.263</text><text x="536" y="380">TaHSP40.264</text><text x="536" y="458">TaHSP40.265</text><text x="536" y="466">TaHSP40.266</text><text x="536" y="488">TaHSP40.267</text><text x="536" y="496">TaHSP40.268</text><text x="536" y="504">TaHSP40.269</text><text x="536" y="512">TaHSP40.270</text></g>
<g class="b"><text x="536" y="340">TaHSP60.61</text><text x="536" y="344">TaHSP60.62</text><text x="536" y="348">TaHSP60.63</text><text x="536" y="480">TaHSP60.64</text></g>
<g class="c"><text x="536" y="384">TaHSP70.87</text><text x="536" y="472">TaHSP70.88 TaHSP70.89</text><text x="536" y="476">TaHSP70.90</text><text x="536" y="492">TaHSP70.91</text></g>
<g class="d"><text x="536" y="372">TaHSP127</text><text x="536" y="376">TaHSP128</text><text x="536" y="462">TaHSP129</text><text x="536" y="484">TaHSP130</text></g>
<g class="e"><text x="536" y="418">TaHSP100.56</text><text x="536" y="500">TaHSP100.57</text></g>
</g>

<g id="chr7A" class="t">
<rect class="A" x="593.5" y="335" width="5" height="227" rx="2.5"/>
<rect class="rb" x="608" y="337.5" width="28" height="20"/>
<rect class="gb" x="608" y="366" width="23" height="28"/>
<rect class="bb" x="632" y="366" width="25.5" height="8"/>
<rect class="bb" x="608" y="534" width="48" height="8"/>
<path class="pa" d="M593.5 353H601L608 364M593.5 370H601L608 396M593.5 373H601L608 400M593.5 380H601L608 408M593.5 384H601L608 412M593.5 395H601L608 422M593.5 518H601L608 520M593.5 524H601L608 528M593.5 530H601L608 536M593.5 532H601L608 540M593.5 543H601L608 552M593.5 553H601L608 560"/>
<path class="pb" d="M593.5 350H601L608 360M593.5 376H601L608 404M593.5 446H601L608 446M593.5 466H601L608 466M593.5 476H601L608 476M593.5 493H601L608 493M593.5 535H601L608 544"/>
<path class="pc" d="M593.5 388H601L608 416M593.5 527H601L608 532"/>
<path class="pd" d="M593.5 356H601L608 368M593.5 358H601L608 372M593.5 360H601L608 376M593.5 362H601L608 380M593.5 364H601L608 384M593.5 366H601L608 388M593.5 368H601L608 392M593.5 521H601L608 524M593.5 539H601L608 548"/>
<path class="pe" d="M593.5 342H601L608 339.5M593.5 343H601L608 343.5M593.5 344H601L608 347.5M593.5 345H601L608 351.5M593.5 346H601L608 355.5M593.5 548H601L608 556"/>
<g class="a"><text x="609" y="364">TaHSP40.271</text><text x="633" y="368">TaHSP40.272</text><text x="633" y="372">TaHSP40.273</text><text x="609" y="396">TaHSP40.274</text><text x="609" y="400">TaHSP40.275</text><text x="609" y="408">TaHSP40.276</text><text x="609" y="412">TaHSP40.277</text><text x="609" y="422">TaHSP40.278</text><text x="609" y="520">TaHSP40.279</text><text x="609" y="528">TaHSP40.280</text><text x="609" y="536">TaHSP40.281 TaHSP40.282</text><text x="609" y="540">TaHSP40.283</text><text x="609" y="552">TaHSP40.284</text><text x="609" y="560">TaHSP40.285</text></g>
<g class="b"><text x="609" y="360">TaHSP60.65</text><text x="609" y="404">TaHSP60.66</text><text x="609" y="446">TaHSP60.67</text><text x="609" y="466">TaHSP60.68</text><text x="609" y="476">TaHSP60.69</text><text x="609" y="493">TaHSP60.70</text><text x="609" y="544">TaHSP60.71</text></g>
<g class="c"><text x="609" y="416">TaHSP70.92</text><text x="609" y="532">TaHSP70.93</text></g>
<g class="d"><text x="609" y="368">TaHSP131</text><text x="609" y="372">TaHSP132</text><text x="609" y="376">TaHSP133</text><text x="609" y="380">TaHSP134</text><text x="609" y="384">TaHSP135</text><text x="609" y="388">TaHSP136</text><text x="609" y="392">TaHSP137</text><text x="609" y="524">TaHSP138</text><text x="609" y="548">TaHSP139</text></g>
<g class="e"><text x="609" y="339.5">TaHSP100.61</text><text x="609" y="343.5">TaHSP100.62</text><text x="609" y="347.5">TaHSP100.63</text><text x="609" y="351.5">TaHSP100.64</text><text x="609" y="355.5">TaHSP100.65</text><text x="609" y="556">TaHSP100.66</text></g>
</g>

<g id="chr7B" class="t">
<rect class="B" x="37.5" y="648" width="5" height="249" rx="2.5"/>
<rect class="bb" x="52" y="663.5" width="48" height="4"/>
<path class="gb" d="M52 676H75V684H97V688H75V708H52Z"/>
<rect class="yb" x="52" y="832" width="23" height="8"/>
<path class="rb" d="M52 844H76V848H100V852H76V856H52Z"/>
<rect class="gb" x="52" y="864" width="22" height="8"/>
<rect class="bb" x="52" y="876" width="48" height="12"/>
<rect class="bb" x="52" y="888" width="48" height="4"/>
<path class="pa" d="M37.5 668H45L52 665.5M37.5 672H45L52 673.5M37.5 693H45L52 710M37.5 710H45L52 726M37.5 715H45L52 730M37.5 718H45L52 734M37.5 728H45L52 742M37.5 756.3H45L52 756.3M37.5 774H45L52 774M37.5 853H45L52 862M37.5 860H45L52 874M37.5 865H45L52 878M37.5 865H45L52 882M37.5 865H45L52 886M37.5 878H45L52 890M37.5 890H45L52 898M37.5 894H45L52 902"/>
<path class="pb" d="M37.5 670H45L52 669.5M37.5 700H45L52 718M37.5 704H45L52 722M37.5 748H45L52 748M37.5 790.7H45L52 790.7M37.5 795.3H45L52 795.3M37.5 812.7H45L52 812.7"/>
<path class="pc" d="M37.5 838H45L52 834M37.5 838H45L52 838M37.5 850H45L52 858"/>
<path class="pd" d="M37.5 673H45L52 678M37.5 676H45L52 682M37.5 679H45L52 686M37.5 682H45L52 690M37.5 685H45L52 694M37.5 688H45L52 698M37.5 690H45L52 702M37.5 692H45L52 706M37.5 696H45L52 714M37.5 842H45L52 842M37.5 856H45L52 866M37.5 856H45L52 870"/>
<path class="pe" d="M37.5 846H45L52 846M37.5 846H45L52 850M37.5 846H45L52 854"/>
<path class="pf" d="M37.5 720H45L52 738M37.5 885H45L52 894"/>
<g class="a"><text x="53" y="665.5">TaHSP40.213 TaHSP40.214</text><text x="53" y="673.5">TaHSP40.215</text><text x="53" y="710">TaHSP40.216</text><text x="53" y="726">TaHSP40.217</text><text x="53" y="730">TaHSP40.218</text><text x="53" y="734">TaHSP40.219</text><text x="53" y="742">TaHSP40.220</text><text x="53" y="756.3">TaHSP40.221</text><text x="53" y="774">TaHSP40.222</text><text x="53" y="862">TaHSP40.223</text><text x="53" y="874">TaHSP40.224</text><text x="53" y="878">TaHSP40.225 TaHSP40.226</text><text x="53" y="882">TaHSP40.227</text><text x="53" y="886">TaHSP40.228 TaHSP40.229</text><text x="53" y="890">TaHSP40.230 TaHSP40.231</text><text x="53" y="898">TaHSP40.232</text><text x="53" y="902">TaHSP40.233</text></g>
<g class="b"><text x="53" y="669.5">TaHSP60.78</text><text x="53" y="718">TaHSP60.79</text><text x="53" y="722">TaHSP60.80</text><text x="53" y="748">TaHSP60.81</text><text x="53" y="790.7">TaHSP60.82</text><text x="53" y="795.3">TaHSP60.83</text><text x="53" y="812.7">TaHSP60.84</text></g>
<g class="c"><text x="53" y="834">TaHSP70.100</text><text x="53" y="838">TaHSP70.101</text><text x="53" y="858">TaHSP70.102</text></g>
<g class="d"><text x="53" y="678">TaHSP130</text><text x="53" y="682">TaHSP131</text><text x="53" y="686">TaHSP132 TaHSP133</text><text x="53" y="690">TaHSP134</text><text x="53" y="694">TaHSP135</text><text x="53" y="698">TaHSP136</text><text x="53" y="702">TaHSP137</text><text x="53" y="706">TaHSP138</text><text x="53" y="714">TaHSP139</text><text x="53" y="842">TaHSP140</text><text x="53" y="866">TaHSP141</text><text x="53" y="870">TaHSP142</text></g>
<g class="e"><text x="53" y="846">TaHSP100.73</text><text x="53" y="850">TaHSP100.74 TaHSP100.75</text><text x="53" y="854">TaHSP100.76</text></g>
<g class="f"><text x="53" y="738">TaHSP90.7</text><text x="53" y="894">TaHSP90.8</text></g>
</g>

<g id="chr7D" class="t">
<rect class="D" x="113.5" y="648" width="5" height="214" rx="2.5"/>
<rect class="rb" x="127" y="643.5" width="49" height="8"/>
<rect class="rb" x="127" y="651.5" width="49" height="8"/>
<path class="gb" d="M127 679.5H149V687.5H172V691.5H149V695.5H172V699.5H149V711.5H127Z"/>
<rect class="yb" x="127" y="809" width="26" height="28.5"/>
<rect class="bb" x="127" y="845" width="26" height="12"/>
<rect class="bb" x="127" y="857" width="50" height="8.4"/>
<path class="pa" d="M113.5 662H121L127 669.5M113.5 668H121L127 677.5M113.5 700H121L127 713M113.5 714H121L127 729M113.5 722H121L127 737M113.5 732H121L127 745M113.5 738H121L127 749M113.5 770H121L127 770M113.5 773H121L127 774M113.5 842H121L127 847M113.5 842H121L127 851M113.5 842H121L127 855M113.5 848H121L127 859M113.5 848H121L127 863"/>
<path class="pb" d="M113.5 650H121L127 641.7M113.5 659H121L127 665.7M113.5 665H121L127 673.5M113.5 706H121L127 721M113.5 710H121L127 725M113.5 760H121L127 760M113.5 785H121L127 785.3M113.5 788H121L127 789.3M113.5 804.7H121L127 804.7"/>
<path class="pc" d="M113.5 825H121L127 811M113.5 825H121L127 815M113.5 825H121L127 819M113.5 825H121L127 823M113.5 825H121L127 827M113.5 825H121L127 831M113.5 825H121L127 835"/>
<path class="pd" d="M113.5 680H121L127 681.5M113.5 683H121L127 685.5M113.5 686H121L127 689.5M113.5 689H121L127 693.5M113.5 692H121L127 697.5M113.5 694H121L127 701.5M113.5 696H121L127 705.5M113.5 698H121L127 709.5M113.5 703H121L127 717M113.5 718H121L127 733M113.5 833H121L127 839.5M113.5 836H121L127 843M113.5 860H121L127 874"/>
<path class="pe" d="M113.5 652H121L127 645.7M113.5 652H121L127 649.5M113.5 652H121L127 653.5M113.5 652H121L127 657.5M113.5 656H121L127 661.7"/>
<path class="pf" d="M113.5 726H121L127 741M113.5 856H121L127 870"/>
<g class="a"><text x="128" y="669.5">TaHSP40.244</text><text x="128" y="677.5">TaHSP40.245</text><text x="128" y="713">TaHSP40.246</text><text x="128" y="729">TaHSP40.247</text><text x="128" y="737">TaHSP40.248</text><text x="128" y="745">TaHSP40.249</text><text x="128" y="749">TaHSP40.250</text><text x="128" y="770">TaHSP40.251</text><text x="128" y="774">TaHSP40.252</text><text x="128" y="847">TaHSP40.253</text><text x="128" y="851">TaHSP40.254</text><text x="128" y="855">TaHSP40.255</text><text x="128" y="859">TaHSP40.256 TaHSP40.257</text><text x="128" y="863">TaHSP40.258 TaHSP40.259</text></g>
<g class="b"><text x="128" y="641.7">TaHSP60.86</text><text x="128" y="665.7">TaHSP60.87</text><text x="128" y="673.5">TaHSP60.88</text><text x="128" y="721">TaHSP60.89</text><text x="128" y="725">TaHSP60.90</text><text x="128" y="760">TaHSP60.91</text><text x="128" y="785.3">TaHSP60.92</text><text x="128" y="789.3">TaHSP60.93</text><text x="128" y="804.7">TaHSP60.94</text></g>
<g class="c"><text x="128" y="811">TaHSP70.103</text><text x="128" y="815">TaHSP70.104</text><text x="128" y="819">TaHSP70.105</text><text x="128" y="823">TaHSP70.106</text><text x="128" y="827">TaHSP70.107</text><text x="128" y="831">TaHSP70.108</text><text x="128" y="835">TaHSP70.109</text></g>
<g class="d"><text x="128" y="681.5">TaHSP143</text><text x="128" y="685.5">TaHSP144</text><text x="128" y="689.5">TaHSP145 TaHSP146</text><text x="128" y="693.5">TaHSP147</text><text x="128" y="697.5">TaHSP148 TaHSP149</text><text x="128" y="701.5">TaHSP150</text><text x="128" y="705.5">TaHSP151</text><text x="128" y="709.5">TaHSP152</text><text x="128" y="717">TaHSP153</text><text x="128" y="733">TaHSP154</text><text x="128" y="839.5">TaHSP155</text><text x="128" y="843">TaHSP156</text><text x="128" y="874">TaHSP157</text></g>
<g class="e"><text x="128" y="645.7">TaHSP100.77</text><text x="128" y="649.5">TaHSP100.78</text><text x="128" y="653.5">TaHSP100.79 TaHSP100.80</text><text x="128" y="657.5">TaHSP100.81</text><text x="128" y="661.7">TaHSP100.82</text></g>
<g class="f"><text x="128" y="741">TaHSP90.9</text><text x="128" y="870">TaHSP90.10</text></g>
</g>

<g id="genome-chart">
<g class="grid"><path d="M208 705H360M208 713.8H360M208 722.6H360M208 731.4H360M208 740.2H360M208 749H360M208 757.8H360M208 766.6H360M208 775.4H360M208 784.2H360"/></g>
<path d="M208 793H360" stroke="#bbb" stroke-width=".6"/>
<rect x="230" y="763.1" width="16" height="29.9" fill="#0070c0"/>
<rect x="281.7" y="715.6" width="16" height="77.4" fill="#c00000"/>
<rect x="333" y="713.8" width="16" height="79.2" fill="#92d050"/>
<g class="ax" text-anchor="end" style="font-size:3.8px;dominant-baseline:central"><text x="206" y="705">260</text><text x="206" y="713.8">255</text><text x="206" y="722.6">250</text><text x="206" y="731.4">245</text><text x="206" y="740.2">240</text><text x="206" y="749">235</text><text x="206" y="757.8">230</text><text x="206" y="766.6">225</text><text x="206" y="775.4">220</text><text x="206" y="784.2">215</text><text x="206" y="793">210</text></g>
<g class="ax" text-anchor="middle"><text x="238" y="801">A genome</text><text x="289.7" y="801">B genome</text><text x="341" y="801">D genome</text></g>
<text class="ax" transform="translate(190,750) rotate(-90)" text-anchor="middle">Number of TaHSP genes</text>
</g>

<g id="chromosome-chart">
<g class="grid"><path d="M390 772.3H606M390 748.7H606M390 725H606M390 701.3H606M390 677.7H606M390 654H606"/></g>
<path d="M390 796H606" stroke="#ccc" stroke-width=".6"/>
<rect x="393" y="755.76" width="5" height="40.24" fill="#f4b183"/>
<rect x="402.76" y="751.03" width="5" height="44.97" fill="#4a86d0"/>
<rect x="412.52" y="748.66" width="5" height="47.34" fill="#92d050"/>
<rect x="422.28" y="746.29" width="5" height="49.71" fill="#c00000"/>
<rect x="432.04" y="729.72" width="5" height="66.28" fill="#4a86d0"/>
<rect x="441.8" y="729.72" width="5" height="66.28" fill="#4a86d0"/>
<rect x="451.56" y="724.99" width="5" height="71.01" fill="#92d050"/>
<rect x="461.32" y="724.99" width="5" height="71.01" fill="#4a86d0"/>
<rect x="471.08" y="724.99" width="5" height="71.01" fill="#92d050"/>
<rect x="480.84" y="722.62" width="5" height="73.38" fill="#c00000"/>
<rect x="490.6" y="720.26" width="5" height="75.74" fill="#92d050"/>
<rect x="500.36" y="717.89" width="5" height="78.11" fill="#4a86d0"/>
<rect x="510.12" y="708.42" width="5" height="87.58" fill="#c00000"/>
<rect x="519.88" y="708.42" width="5" height="87.58" fill="#92d050"/>
<rect x="529.64" y="701.32" width="5" height="94.68" fill="#92d050"/>
<rect x="539.4" y="698.95" width="5" height="97.05" fill="#92d050"/>
<rect x="549.16" y="698.95" width="5" height="97.05" fill="#4a86d0"/>
<rect x="558.92" y="698.95" width="5" height="97.05" fill="#c00000"/>
<rect x="568.68" y="691.85" width="5" height="104.15" fill="#c00000"/>
<rect x="578.44" y="682.38" width="5" height="113.62" fill="#4a86d0"/>
<rect x="588.2" y="682.38" width="5" height="113.62" fill="#c00000"/>
<rect x="597.96" y="661.08" width="5" height="134.92" fill="#92d050"/>
<g class="ax" text-anchor="middle" style="font-size:3.8px;dominant-baseline:central"><text x="384" y="796">0</text><text x="384" y="772.3">10</text><text x="384" y="748.7">20</text><text x="384" y="725">30</text><text x="384" y="701.3">40</text><text x="384" y="677.7">50</text><text x="384" y="654">60</text></g>
<g class="ax" text-anchor="middle" style="font-size:3.8px"><text x="395.5" y="803">Un</text><text x="405.3" y="803">2A</text><text x="415" y="803">2D</text><text x="424.8" y="803">2B</text><text x="434.5" y="803">1A</text><text x="444.3" y="803">6A</text><text x="454.1" y="803">1D</text><text x="463.8" y="803">3A</text><text x="473.6" y="803">6D</text><text x="483.3" y="803">6B</text><text x="493.1" y="803">1B</text><text x="502.9" y="803">5A</text><text x="512.6" y="803">3B</text><text x="522.4" y="803">4D</text><text x="532.1" y="803">5D</text><text x="541.9" y="803">3D</text><text x="551.7" y="803">4A</text><text x="561.4" y="803">4B</text><text x="571.2" y="803">5B</text><text x="580.9" y="803">7A</text><text x="590.7" y="803">7B</text><text x="600.5" y="803">7D</text></g>
<text class="ax" x="490" y="814" text-anchor="middle" style="font-size:3.8px">CHROMOSOME NAME</text>
<text class="ax" transform="translate(373,725) rotate(-90)" text-anchor="middle" style="font-size:3.8px">NUMBER OF TAHSP GENES</text>
</g>
</svg>
